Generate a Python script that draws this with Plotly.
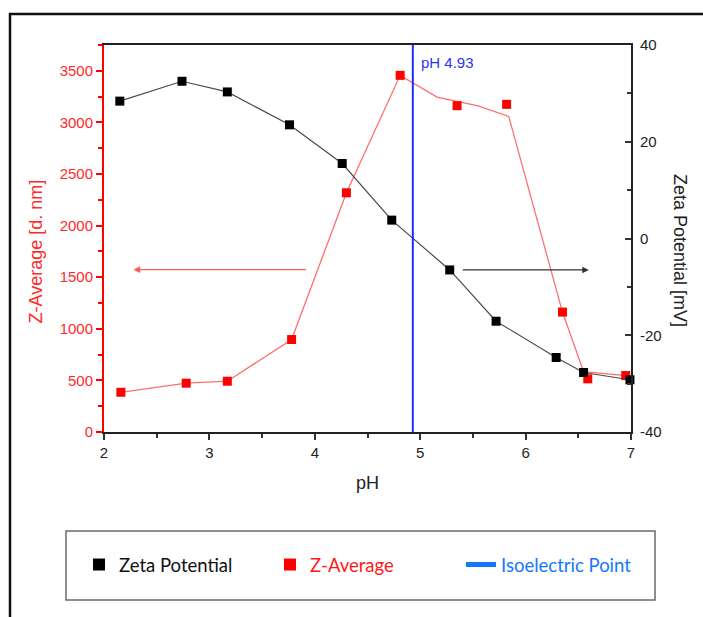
import plotly.graph_objects as go

# Zeta potential (mV) vs pH
ph_zeta = [2.15, 2.74, 3.17, 3.76, 4.26, 4.73, 5.28, 5.72, 6.29, 6.55, 6.99]
zeta = [28.4, 32.5, 30.3, 23.5, 15.5, 3.8, -6.5, -17.1, -24.6, -27.7, -29.2]

# Z-Average size (d. nm) vs pH, measured points
ph_zavg = [2.16, 2.78, 3.17, 3.78, 4.30, 4.81, 5.35, 5.82, 6.35, 6.59, 6.95]
zavg = [385, 473, 492, 896, 2318, 3456, 3162, 3175, 1162, 515, 547]

# Z-Average trend line
ph_zavg_trend = [2.16, 2.78, 3.17, 3.78, 4.30, 4.81, 5.16, 5.55, 5.84, 6.35, 6.55, 6.95]
zavg_trend = [385, 473, 492, 896, 2318, 3456, 3245, 3161, 3058, 1162, 585, 547]

# Isoelectric point
iep_ph = 4.93

x_ticks = [2, 3, 4, 5, 6, 7]
zavg_ticks = [0, 500, 1000, 1500, 2000, 2500, 3000, 3500]
zeta_ticks = [-40, -20, 0, 20, 40]
zeta_tick_text = ["-40", "-20", "0", "20", "40"]

RED = "#ff0000"
RED_LINE = "#ff6e6e"
TICK_FONT = "Arial, Liberation Sans, sans-serif"
LEG_FONT = "Lato, Open Sans, sans-serif"

W, H = 703, 617
ML, MR, MT, MB = 104, 72, 45, 185
PW, PH = W - ML - MR, H - MT - MB


def px_x(p):
    return (p - ML) / PW


def px_y(p):
    return (H - MB - p) / PH


fig = go.Figure()

# Zeta potential line + markers (right axis)
fig.add_trace(go.Scatter(x=ph_zeta, y=zeta, yaxis="y2", mode="lines",
                         line=dict(color="#4a4a4a", width=1.2),
                         showlegend=False, hoverinfo="skip"))
fig.add_trace(go.Scatter(x=ph_zeta, y=zeta, yaxis="y2", mode="markers",
                         marker=dict(symbol="square", size=9, color="#000000"),
                         name="Zeta Potential", cliponaxis=False))

# Z-Average trend + markers (left axis)
fig.add_trace(go.Scatter(x=ph_zavg_trend, y=zavg_trend, yaxis="y", mode="lines",
                         line=dict(color=RED_LINE, width=1.3),
                         showlegend=False, hoverinfo="skip"))
fig.add_trace(go.Scatter(x=ph_zavg, y=zavg, yaxis="y", mode="markers",
                         marker=dict(symbol="square", size=9, color=RED),
                         name="<span style='color:#ff1a1a'>Z-Average</span>",
                         cliponaxis=False))

# legend entry for the isoelectric point
fig.add_trace(go.Scatter(x=[None], y=[None], mode="lines",
                         line=dict(color="#1477ff", width=3),
                         name="<span style='color:#1477ff'>Isoelectric Point</span>"))

shapes = [
    # isoelectric point marker line
    dict(type="line", xref="x", yref="paper", x0=iep_ph, x1=iep_ph, y0=0, y1=1,
         line=dict(color="#1f2bff", width=2)),
    # outer frame
    dict(type="rect", xref="paper", yref="paper",
         x0=px_x(10), x1=1.4, y0=-0.9, y1=px_y(14),
         line=dict(color="#111111", width=2.5)),
    # legend box
    dict(type="rect", xref="paper", yref="paper",
         x0=px_x(66), x1=px_x(655), y0=px_y(600), y1=px_y(531),
         line=dict(color="#6a6a6a", width=1.5)),
]

annotations = [
    dict(x=iep_ph, y=px_y(62), xref="x", yref="paper", xshift=6,
         text=f"pH {iep_ph}", showarrow=False, xanchor="left", yanchor="middle",
         font=dict(family=TICK_FONT, size=15, color="#2b35f0")),
    # arrow toward the left axis
    dict(x=2.28, y=1573, xref="x", yref="y", ax=3.93, ay=1573, axref="x", ayref="y",
         text="", showarrow=True, arrowhead=2, arrowsize=1.1, arrowwidth=1.2,
         arrowcolor="#ff5a5a"),
    # arrow toward the right axis
    dict(x=6.60, y=-6.5, xref="x", yref="y2", ax=5.39, ay=-6.5, axref="x", ayref="y2",
         text="", showarrow=True, arrowhead=2, arrowsize=1.1, arrowwidth=1.2,
         arrowcolor="#333333"),
    # axis titles
    dict(x=0.5, y=px_y(483), xref="paper", yref="paper", text="pH", showarrow=False,
         xanchor="center", yanchor="middle",
         font=dict(family=TICK_FONT, size=18, color="#222222")),
    dict(x=px_x(35.5), y=px_y(252), xref="paper", yref="paper",
         text="Z-Average [d. nm]", showarrow=False, textangle=-90,
         xanchor="center", yanchor="middle",
         font=dict(family=TICK_FONT, size=18, color="#ff2a2a")),
    dict(x=px_x(680), y=px_y(250), xref="paper", yref="paper",
         text="Zeta Potential [mV]", showarrow=False, textangle=90,
         xanchor="center", yanchor="middle",
         font=dict(family=TICK_FONT, size=18, color="#222222")),
]

fig.update_layout(
    width=W, height=H,
    margin=dict(l=ML, r=MR, t=MT, b=MB, pad=0),
    paper_bgcolor="white", plot_bgcolor="white",
    shapes=shapes, annotations=annotations,
    xaxis=dict(range=[2, 7], tickvals=x_ticks, showgrid=False, zeroline=False,
               showline=True, linecolor="#222222", linewidth=2, mirror=True,
               ticks="outside", ticklen=6, tickwidth=2, tickcolor="#333333",
               minor=dict(dtick=0.5, ticks="outside", ticklen=4, tickwidth=2,
                          tickcolor="#333333"),
               tickfont=dict(family=TICK_FONT, size=15, color="#222222")),
    yaxis=dict(range=[0, 3750], tickvals=zavg_ticks, showgrid=False, zeroline=False,
               showline=True, linecolor=RED, linewidth=2,
               ticks="outside", ticklen=6, tickwidth=2, tickcolor=RED,
               minor=dict(dtick=250, ticks="outside", ticklen=4, tickwidth=2,
                          tickcolor=RED),
               tickfont=dict(family=TICK_FONT, size=15, color="#ff2a2a")),
    yaxis2=dict(range=[-40, 40], tickvals=zeta_ticks, ticktext=zeta_tick_text,
                overlaying="y", side="right",
                showgrid=False, zeroline=False,
                showline=True, linecolor="#222222", linewidth=2,
                ticks="inside", ticklen=6, tickwidth=2, tickcolor="#333333",
                minor=dict(dtick=10, ticks="inside", ticklen=4, tickwidth=2,
                           tickcolor="#333333"),
                ticklabelstandoff=4,
                tickfont=dict(family=TICK_FONT, size=15, color="#222222")),
    legend=dict(orientation="h", x=px_x(79), y=px_y(565),
                xanchor="left", yanchor="middle",
                bgcolor="rgba(0,0,0,0)", borderwidth=0,
                entrywidth=146, entrywidthmode="pixels", itemsizing="constant",
                traceorder="normal",
                font=dict(family=LEG_FONT, size=18.5, color="#111111")),
    showlegend=True,
)

fig.write_html("out.html")
